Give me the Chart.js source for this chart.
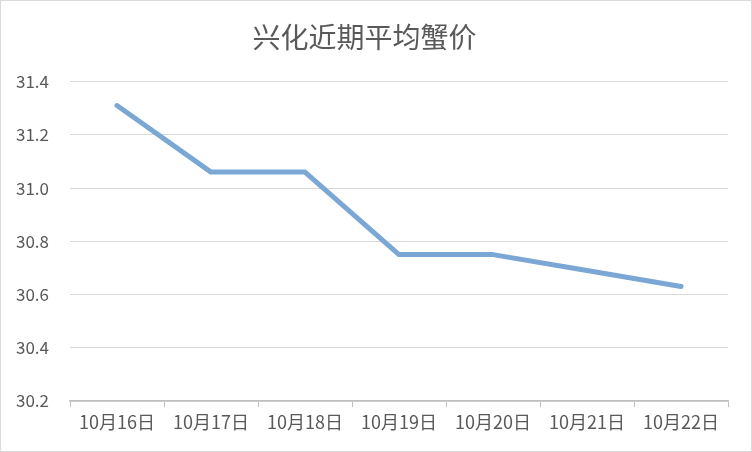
<!DOCTYPE html>
<html>
<head>
<meta charset="utf-8">
<script src="https://cdn.jsdelivr.net/npm/chart.js@4.4.0/dist/chart.umd.min.js"></script>
<style>
  html, body { margin: 0; padding: 0; background: #fff; }
  #wrap { position: relative; width: 752px; height: 452px; box-sizing: border-box; border: 1px solid #d9d9d9; }
  canvas { display: block; }
</style>
</head>
<body>
<div id="wrap"><canvas id="crabChart" width="750" height="450"></canvas></div>
<script>
// 数据
const dates = ["10月16日", "10月17日", "10月18日", "10月19日", "10月20日", "10月21日", "10月22日"];
const prices = [31.31, 31.06, 31.06, 30.75, 30.75, 30.69, 30.63];
const yTicks = [30.2, 30.4, 30.6, 30.8, 31.0, 31.2, 31.4];

const grey = "#595959";
const font = "'Noto Sans CJK SC', 'Noto Sans', sans-serif";

const ctx = document.getElementById('crabChart').getContext('2d');

new Chart(ctx, {
  type: 'line',
  data: {
    labels: dates,
    datasets: [{
      label: "平均蟹价",
      data: prices,
      borderColor: "#7ba7d4",
      borderWidth: 5,
      pointRadius: 0,
      fill: false,
      tension: 0,
      borderCapStyle: 'round',
      borderJoinStyle: 'round'
    }]
  },
  options: {
    responsive: false,
    animation: false,
    layout: { padding: { left: 0, right: 23, top: 0, bottom: 0 } },
    plugins: {
      legend: { display: false },
      tooltip: { enabled: false },
      title: {
        display: true,
        text: "兴化近期平均蟹价",
        color: grey,
        font: { family: font, size: 28, weight: 'normal' },
        padding: { top: 20, bottom: 27 }
      }
    },
    scales: {
      x: {
        offset: true,
        grid: {
          offset: true,
          drawOnChartArea: false,
          drawTicks: true,
          tickLength: 6,
          color: "#bfbfbf"
        },
        border: { display: true, color: "#bfbfbf", width: 1.5 },
        ticks: {
          color: grey,
          font: { family: font, size: 18 },
          maxRotation: 0,
          padding: 4
        },
        afterFit: s => { s.height = 50; }
      },
      y: {
        min: 30.2,
        max: 31.4,
        afterBuildTicks: s => { s.ticks = yTicks.map(v => ({ value: v })); },
        grid: { color: "#d9d9d9", drawTicks: false, lineWidth: 1 },
        border: { display: false },
        ticks: {
          color: grey,
          font: { family: font, size: 17 },
          padding: 21,
          callback: v => Number(v).toFixed(1)
        },
        afterFit: s => { s.width = 69; }
      }
    }
  }
});
</script>
</body>
</html>
